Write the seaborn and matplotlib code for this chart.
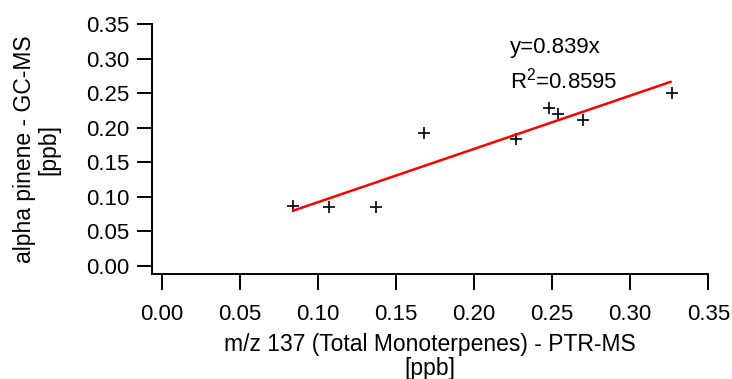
import matplotlib
matplotlib.use("Agg")
import matplotlib.pyplot as plt
import seaborn as sns
import numpy as np
import pandas as pd

# PTR-MS total monoterpenes vs GC-MS alpha pinene (ppb)
ptr_ms = [0.084, 0.107, 0.137, 0.168, 0.227, 0.248, 0.254, 0.270, 0.327]
gc_ms = [0.087, 0.085, 0.085, 0.193, 0.184, 0.228, 0.220, 0.211, 0.251]

# fitted line as drawn in the figure
fit_x = [0.084, 0.326]
fit_slope = 0.772
fit_intercept = 0.015

eq_text = "y=0.839x"
r2_text = "R$^{2}$=0.8595"
ticks = [0.00, 0.05, 0.10, 0.15, 0.20, 0.25, 0.30, 0.35]

df = pd.DataFrame({"ptr": ptr_ms, "gc": gc_ms})
fit_df = pd.DataFrame({"x": fit_x})
fit_df["y"] = fit_slope * fit_df["x"] + fit_intercept

sns.set_theme(style="white")
plt.rcParams["font.family"] = ["Liberation Sans", "DejaVu Sans"]
plt.rcParams["mathtext.default"] = "regular"
plt.rcParams["text.color"] = "black"
plt.rcParams["axes.labelcolor"] = "black"

fig = plt.figure(figsize=(7.32, 3.79), dpi=100)
ax = fig.add_axes([0.2077, 0.2770, 0.7599, 0.6589])

sns.lineplot(data=fit_df, x="x", y="y", ax=ax, color="#ff0000", linewidth=1.8)
sns.scatterplot(data=df, x="ptr", y="gc", ax=ax, marker="+", s=75,
                color="black", linewidth=1.2)

ax.set_xlim(-0.0064, 0.35)
ax.set_ylim(-0.012, 0.35)
ax.set_xticks(ticks)
ax.set_yticks(ticks)
ax.set_xticklabels([f"{t:.2f}" for t in ticks])
ax.set_yticklabels([f"{t:.2f}" for t in ticks])

for side in ["top", "right"]:
    ax.spines[side].set_visible(False)
for side in ["left", "bottom"]:
    ax.spines[side].set_linewidth(1.4)
    ax.spines[side].set_color("black")

ax.tick_params(axis="x", direction="out", length=11.5, width=1.4, pad=10,
               labelsize=16, colors="black", bottom=True)
ax.tick_params(axis="y", direction="out", length=11, width=1.4, pad=5,
               labelsize=16, colors="black", left=True)

ax.set_xlabel("m/z 137 (Total Monoterpenes) - PTR-MS\n[ppb]", fontsize=16.5,
              linespacing=1.05)
ax.set_ylabel("alpha pinene - GC-MS\n[ppb]", fontsize=16.5, linespacing=1.05)
ax.xaxis.set_label_coords(0.5, -0.235)
ax.yaxis.set_label_coords(-0.165, 0.5)

ax.text(0.223, 0.309, eq_text, fontsize=16, va="baseline", ha="left")
ax.text(0.223, 0.257, r2_text, fontsize=16, va="baseline", ha="left")

fig.savefig("out.png", dpi=100)
